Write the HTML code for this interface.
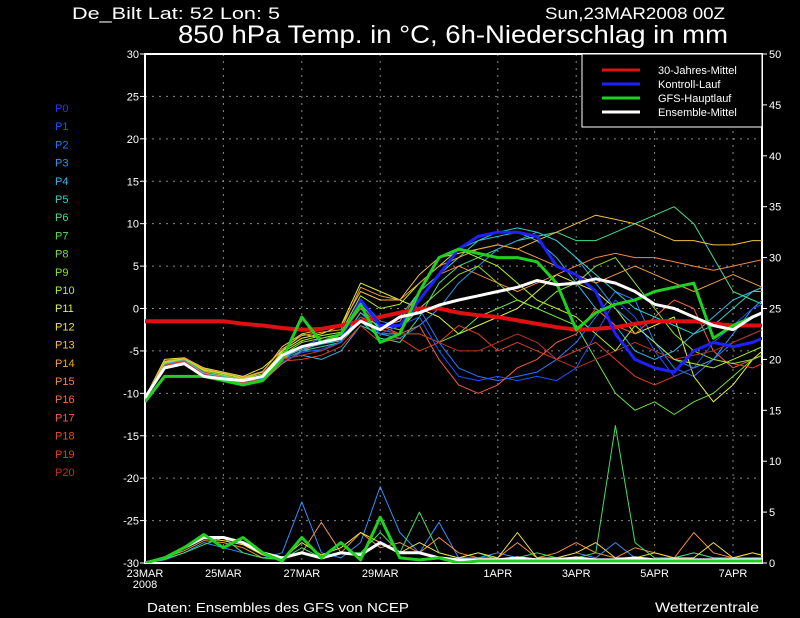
<!DOCTYPE html>
<html><head><meta charset="utf-8"><style>
html,body{margin:0;padding:0;background:#000;}
svg{display:block;font-family:"Liberation Sans",sans-serif;}
</style></head><body>
<svg id="chart" width="800" height="618" viewBox="0 0 800 618">
<defs><clipPath id="pc"><rect x="145" y="54" width="617" height="509"/></clipPath></defs>
<rect width="800" height="618" fill="#000"/>
<text x="72" y="19" fill="#fff" font-size="17" textLength="208" lengthAdjust="spacingAndGlyphs">De_Bilt  Lat: 52 Lon: 5</text>
<text x="545" y="19" fill="#fff" font-size="17" textLength="180" lengthAdjust="spacingAndGlyphs">Sun,23MAR2008 00Z</text>
<text x="178" y="43" fill="#fff" font-size="25" textLength="550" lengthAdjust="spacingAndGlyphs">850 hPa Temp. in °C, 6h-Niederschlag in mm</text>
<g id="grid"></g>
<g id="axes"></g>
<g id="series" clip-path="url(#pc)"></g>
<g id="members-legend"></g>
<g>
<rect x="582" y="54" width="180" height="73" fill="#000" stroke="#fff" stroke-width="1"/>
<line x1="602" y1="70" x2="640" y2="70" stroke="#e01010" stroke-width="3"/>
<text x="658" y="74" fill="#fff" font-size="11">30-Jahres-Mittel</text>
<line x1="602" y1="84" x2="640" y2="84" stroke="#2020ff" stroke-width="3"/>
<text x="658" y="88" fill="#fff" font-size="11">Kontroll-Lauf</text>
<line x1="602" y1="98" x2="640" y2="98" stroke="#20d020" stroke-width="3"/>
<text x="658" y="102" fill="#fff" font-size="11">GFS-Hauptlauf</text>
<line x1="602" y1="112" x2="640" y2="112" stroke="#fff" stroke-width="3"/>
<text x="658" y="116" fill="#fff" font-size="11">Ensemble-Mittel</text>
</g>
<text x="147" y="612" fill="#fff" font-size="13" textLength="262" lengthAdjust="spacingAndGlyphs">Daten: Ensembles des GFS von NCEP</text>
<text x="655" y="612" fill="#fff" font-size="14" textLength="104" lengthAdjust="spacingAndGlyphs">Wetterzentrale</text>
</svg>
<script>
const dateLabels=["25MAR","27MAR","29MAR","1APR","3APR","5APR","7APR"];
const dateDays=[2,4,6,9,11,13,15];
const tempTicks=[30,25,20,15,10,5,0,-5,-10,-15,-20,-25,-30];
const precTicks=[0,5,10,15,20,25,30,35,40,45,50];
const memberNames=["P0","P1","P2","P3","P4","P5","P6","P7","P8","P9","P10","P11","P12","P13","P14","P15","P16","P17","P18","P19","P20"];
const memberColors=["#3030ff","#2050ff","#2878ff","#2898f0","#30b8e8","#30d0c8","#40e090","#50e050","#70e040","#90e030","#b0f020","#e0f040","#f0e040","#f0c040","#f0a040","#f08848","#f07040","#f06040","#e05030","#e04020","#c03020"];
const climate=[-1.5,-1.5,-1.5,-1.5,-1.5,-1.8,-2,-2.3,-2.5,-2.4,-2,-1.5,-1,-0.5,0,0,-0.5,-0.8,-1,-1.4,-1.8,-2.2,-2.5,-2.4,-2.2,-1.8,-1.5,-1.5,-1.5,-1.8,-2,-2,-2];
const ensMean=[-10.5,-7,-6.5,-8,-8.3,-8.5,-8,-5.5,-4.5,-4,-3.5,-1.5,-2.5,-1,-0.5,0.4,1,1.5,2,2.5,3.3,2.8,3,3.5,3,2,0.5,0,-1,-2,-2.5,-1,0];
const gfsRun=[-11,-8,-8,-8,-8.5,-9,-8.5,-6,-1,-4,-3,0.5,-4,-3,2,6,7,6.5,6,6,5.5,3,-2.5,-0.5,0.5,1,2,2.5,3,-3.5,-2,-1,0];
const controlRun=[-10.5,-7,-6.5,-8,-8.3,-8.5,-8,-5.5,-4.5,-4,-3.5,1,-2,-2,1,4,7,8.5,9,9,8.5,5,4,2,-3,-6,-7,-7.5,-5,-4,-4.5,-4,-3];
const memberIdx=[2,4,6,8,11,13,15,17,19,3,9,20,1,5,10,14];
const m0=[-10.5,-6.8,-6.2,-7.8,-8.2,-8.8,-8.4,-5.8,-4.5,-3.5,-3,1,-1.5,-2,0,-4,-7,-8,-8.5,-8,-7.5,-6,-4,-1,2,1,-4,-7,-8,-6,-4,-3,-2];
const m1=[-10.5,-6.5,-6,-7.5,-8,-8.5,-8,-6,-5.5,-6,-5,-2,-3,-3,1,4,7,8,8.5,9,8,6,3,0,-2,-5,-6,-5,-3,-1,1,2,2];
const m2=[-10.5,-7,-6.5,-8,-8,-9,-8.5,-6.5,-5,-4.5,-4,-1.5,-3.5,-4,-1,3,5,6,7,8,8.5,9,8,8,9,10,11,12,10,6,2,1,0];
const m3=[-10.5,-6.5,-6,-7.5,-7.8,-8.5,-8,-5,-3,-3.5,-3,0,-2.5,-3,-3,-4,-3,-1,0,1,0,-1,-2,-6,-10,-12,-11,-12.5,-11,-10,-8,-6,-5];
const m4=[-10.5,-6,-5.8,-7,-7.5,-8,-7,-5,-3.5,-3,-2,3,2,1,0,-1,-3,-2,-1,0,2,4,3,2,0,-3,-2,-1,-8,-11,-9,-6,-4];
const m5=[-10.5,-6.3,-5.9,-7.2,-7.6,-8.2,-7.5,-4.5,-3,-2.5,-2,2,1,1,4,6,6.5,7,7.5,7,8,9,10,11,10.5,10,9,8,8,7.5,7.5,8,8];
const m6=[-10.5,-6.6,-6.1,-7.6,-8,-8.6,-8.2,-6,-4.5,-4,-3.5,-1,-2,-1.5,2,4,5,4,3,2,3,4,5,6,6.5,6,6,5.5,5,4.5,5,5.5,6];
const m7=[-10.5,-6.8,-6.3,-7.9,-8.3,-8.8,-8.6,-6.5,-5,-4,-3,0,-2,-3,-2,-6,-9,-10,-9,-7,-6,-4,-3,0,-2,-3,-1,1,0,-5,-7,-6,-5];
const m8=[-10.5,-6.7,-6.2,-7.7,-8.1,-8.7,-8.3,-6.2,-6,-5.5,-4.5,-2,-4,-3.5,-5,-4,-2,-3,-5,-4,-5,-6,-5,-4,-6,-8,-9,-8,-7,-6,-6.5,-7,-6];
const m9=[-10.5,-6.6,-6,-7.6,-8,-8.6,-8.2,-6,-5,-5,-4,-1,-3,-3.5,-2,0,3,5,7,8,9,8,6,3,0,-2,-4,-6,-7,-6,-3,0,2];
const m10=[-10.5,-6.4,-5.9,-7.4,-7.9,-8.4,-7.9,-5.5,-4,-3.5,-3,0.5,-2,-2.5,0,2,4,5,3,1,0,2,3,5,6,3,0,-3,-5,-6,-6.5,-6,-5];
const m11=[-10.5,-6.5,-6,-7.5,-8,-8.5,-8,-6,-5.5,-5,-4,-1,-2.5,-3,-3,-4,-5,-5,-4,-3,-4,-6,-7,-6,-5,-4,-5,-6,-5.5,-5,-4,-3,-2];
const m12=[-10.5,-6.9,-6.4,-8,-8.4,-8.9,-8.5,-6.3,-5.2,-4.8,-4,-0.5,-3,-2,-1,-5,-8,-8.5,-8,-8.5,-8,-8.5,-7,-3,1,-1,-5,-8,-7,-4,-2,0,1];
const m13=[-10.5,-6.5,-6,-7.6,-8,-8.5,-8,-5.8,-4.8,-4.2,-3.8,-0.5,-2.2,-1,2,4,6,8,9,9.5,9,8,6,4,2,0,-1,-2,-3,-2,0,2,3];
const m14=[-10.5,-6.4,-5.9,-7.3,-7.7,-8.3,-7.7,-5.2,-3.8,-3.2,-2.8,1.5,0,0.5,3,5,7,6,5,3,1,0,-1,-3,-5,-2,-4,-6,-6.5,-7,-6,-5,-4];
const m15=[-10.5,-6.2,-5.8,-7.1,-7.5,-8.1,-7.4,-4.8,-3.2,-2.8,-2.5,2.5,1.5,1,3,5,6,7,7.5,7,6,5,4,3,4,5,4,3,2,3,4,3,2];
const members=[m0,m1,m2,m3,m4,m5,m6,m7,m8,m9,m10,m11,m12,m13,m14,m15];
const precMean=[0,0.5,1.5,2.5,2.5,2,1,0.5,1,0.5,1,0.8,2,1,1,0.5,0.3,0.3,0.3,0.5,0.3,0.3,0.5,0.3,0.3,0.5,0.3,0.3,0.3,0.3,0.3,0.3,0.3];
const precGfs=[0,0.5,1.5,2.8,1.5,2.5,1,0.2,2.5,0.5,2,0.3,4.5,0.5,0.3,0.5,0,0.2,0.2,0.2,0.2,0.2,0.2,0.2,0.2,0.2,0.2,0.2,0.2,0.2,0.2,0.2,0.2];
const precA=[0,0.3,1,2,1.5,1,0.5,1,6,1,0.5,2,7.5,3,1,4,0.5,0.5,1,0.5,0.3,0.5,1,0.5,2,0.5,0.3,0.5,1,0.5,0.3,0.5,0.5];
const precB=[0,0.5,1.2,2.2,2,1.5,0.5,0.5,1,4,1,3,1.5,2,1,2.5,1,0.5,0.5,2,0.5,1,2,1,0.5,1.5,1,0.5,3,1,0.5,1,0.5];
const precC=[0,0.4,1,1.8,2.5,1,0.5,0.3,1.5,0.5,1,1,3,1,5,1,0.5,1,0.3,0.5,1,0.5,0.5,1,13.5,2,0.5,0.5,1,0.5,0.5,0.5,0.5];
const precD=[0,0.6,1.4,2.4,2.2,1.8,0.8,0.4,2,0.8,1.5,3,2,1,2,1,0.5,1,0.5,3,0.5,0.5,1,2,0.5,0.5,1,0.5,0.5,2,0.5,1,0.5];
const precColors=["#3090ff","#f09040","#40e060","#f0e040"];
const precSeries=[precA,precB,precC,precD];

const NS="http://www.w3.org/2000/svg";
const X0=145,X1=762,Y0=54,Y1=563,PXD=39.2;
const xd=d=>X0+d*PXD;
const yT=t=>Y0+(30-t)*(Y1-Y0)/60;
const yP=p=>Y1-p*(Y1-Y0)/50;
function mk(tag,attrs,parent){const e=document.createElementNS(NS,tag);for(const k in attrs)e.setAttribute(k,attrs[k]);parent.appendChild(e);return e;}
const grid=document.getElementById('grid'),axes=document.getElementById('axes'),ser=document.getElementById('series'),ml=document.getElementById('members-legend');

tempTicks.forEach(t=>{
  if(t<30&&t>-30){const g=mk('line',{x1:X0,x2:X1,y1:yT(t),y2:yT(t),stroke:'#888','stroke-dasharray':'2,5','stroke-width':1},grid);
  
  }
  const tk=mk('line',{x1:X0-5,x2:X0,y1:yT(t),y2:yT(t),stroke:'#fff'},axes);
  
  
  const tx=mk('text',{x:X0-6,y:yT(t)+4,fill:'#fff','font-size':11,'text-anchor':'end'},axes);
  tx.textContent=t;
  
  
});
precTicks.forEach(p=>{
  const tk=mk('line',{x1:X1,x2:X1+5,y1:yP(p),y2:yP(p),stroke:'#fff'},axes);
  
  
  const tx=mk('text',{x:X1+7,y:yP(p)+4,fill:'#fff','font-size':11},axes);
  tx.textContent=p;
  
  
});
dateDays.forEach((d,i)=>{
  const g=mk('line',{x1:xd(d),x2:xd(d),y1:Y0,y2:Y1,stroke:'#888','stroke-dasharray':'2,5'},grid);
  
  
  const tx=mk('text',{x:xd(d),y:Y1+14,fill:'#fff','font-size':11,'text-anchor':'middle'},axes);
  tx.textContent=dateLabels[i];
  
  
});
const t0=mk('text',{x:X0,y:Y1+14,fill:'#fff','font-size':11,'text-anchor':'middle'},axes);
t0.textContent="23MAR";


const t1=mk('text',{x:X0,y:Y1+25,fill:'#fff','font-size':11,'text-anchor':'middle'},axes);
t1.textContent="2008";


const frame=mk('path',{d:`M${X0},${Y0}H${X1}V${Y1}H${X0}Z`,fill:'none',stroke:'#fff','stroke-width':2},axes);



function line(vals,yf,color,w,name){
  const d=vals.map((v,i)=>(i?'L':'M')+xd(i/2).toFixed(1)+','+yf(v).toFixed(1)).join('');
  const p=mk('path',{d:d,fill:'none',stroke:color,'stroke-width':w,'stroke-linejoin':'round'},ser);
  
  
}
members.forEach((m,k)=>line(m,yT,memberColors[memberIdx[k]],1,'member-temp-line'));
precSeries.forEach((m,k)=>line(m,yP,precColors[k],1,'member-precip-line'));
line(precMean,yP,'#fff',3,'mean-precip-line');
line(precGfs,yP,'#20d020',3,'gfs-precip-line');
line(climate,yT,'#e01010',4,'climate-line');
line(controlRun,yT,'#2020ff',3,'control-temp-line');
line(gfsRun,yT,'#20d020',3,'gfs-temp-line');
line(ensMean,yT,'#fff',3,'mean-temp-line');

memberNames.forEach((n,i)=>{
  const tx=mk('text',{x:55,y:112+i*18.2,fill:memberColors[i],'font-size':11},ml);
  tx.textContent=n;
  
  
});
</script>
</body></html>
